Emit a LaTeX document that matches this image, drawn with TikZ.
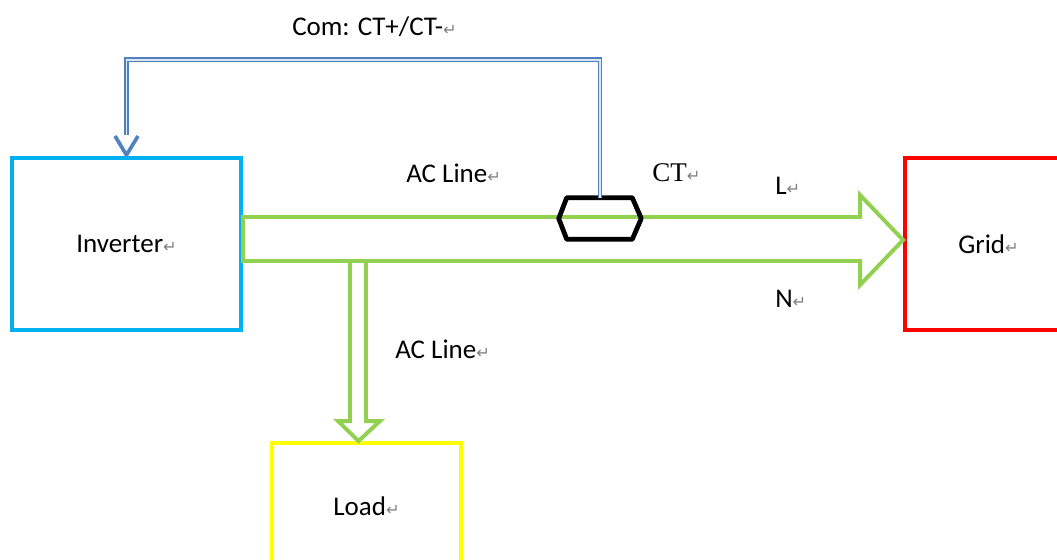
\documentclass[tikz,border=0pt]{standalone}
\usepackage{fontspec}
\setmainfont{Carlito}
\newfontfamily\ctfont{Liberation Serif}
\newfontfamily\symfont{DejaVu Sans}
\usetikzlibrary{calc}

\definecolor{invblue}{HTML}{00B0F0}
\definecolor{gridred}{HTML}{FF0000}
\definecolor{loadyellow}{HTML}{FFFF00}
\definecolor{acgreen}{HTML}{92D050}
\definecolor{comblue}{HTML}{4F81BD}

% Word's paragraph mark after each text
\newcommand{\retmark}{{\symfont\fontsize{11.5}{11.5}\selectfont\color{black!50}↵}}

\begin{document}
\begin{tikzpicture}[x=0.25mm, y=-0.25mm, font=\fontsize{19.2}{23}\selectfont,
    box/.style={draw, line width=2.8pt, inner sep=0pt, minimum height=43mm},
    acline/.style={draw=acgreen, line width=2.8pt, line join=miter},
    comline/.style={draw=comblue, line width=1pt, double=comblue!20, double distance=1.3pt},
    comtip/.style={draw=comblue, line width=2.6pt, line join=round},
    ctring/.style={draw=black, line width=3.4pt, line join=round},
    lbl/.style={anchor=west, inner sep=0pt}]
  \useasboundingbox (0,0) rectangle (1057,560);

  \node[box, draw=invblue, minimum width=57.25mm] (inv) at (126.5,244) {Inverter\retmark};
  \node[box, draw=gridred, minimum width=41.75mm] (grid) at (988.5,244) {Grid\retmark};
  \node[box, draw=loadyellow, minimum width=47.25mm, minimum height=31.5mm] (load) at (366.5,506) {Load\retmark};

  % AC line inverter -> grid
  \draw[acline] ($(inv.east)+(0,-27)$) -- ($(grid.west)+(-43,-27)$)
    -- ($(grid.west)+(-43,-49)$) -- ($(grid.west)+(0,-4)$)
    -- ($(grid.west)+(-43,41)$) -- ($(grid.west)+(-43,17)$)
    -- ($(inv.east)+(0,17)$) -- cycle;

  % AC line down to the load
  \coordinate (loadtip) at ($(load.north)+(-8,0)$);
  \draw[acline] ($(loadtip)+(-8.5,-182)$) -- ($(loadtip)+(-8.5,-20)$)
    -- ($(loadtip)+(-20.5,-20)$) -- (loadtip)
    -- ($(loadtip)+(21.5,-20)$) -- ($(loadtip)+(7.5,-20)$)
    -- ($(loadtip)+(7.5,-182)$);

  % CT
  \node[inner sep=0pt, minimum width=20.5mm, minimum height=10.25mm] (ct) at (600,218.5) {};
  \draw[ctring] (ct.west) -- ([xshift=2mm]ct.north west) -- ([xshift=-2.25mm]ct.north east)
    -- (ct.east) -- ([xshift=-2.25mm]ct.south east) -- ([xshift=2mm]ct.south west) -- cycle;

  % communication line CT -> inverter
  \draw[comline] (ct.north) -- ++(0,-138) -| ($(inv.north)+(0,-21)$);
  \draw[comtip] ($(inv.north)+(-11.5,-20)$) -- ($(inv.north)+(0,-1)$) -- ($(inv.north)+(11.5,-20)$);

  \node[lbl] (comlbl) at (292,27) {Com: CT+/CT-\retmark};
  \node[lbl] (aclbl) at (406,173) {AC Line\retmark};
  \node[lbl] (ctlbl) at (652,173) {\ctfont CT\retmark};
  \node[lbl] (llbl) at (775,186) {L\retmark};
  \node[lbl] (nlbl) at (775,299) {N\retmark};
  \node[lbl] (acdownlbl) at (395,349) {AC Line\retmark};
\end{tikzpicture}
\end{document}
